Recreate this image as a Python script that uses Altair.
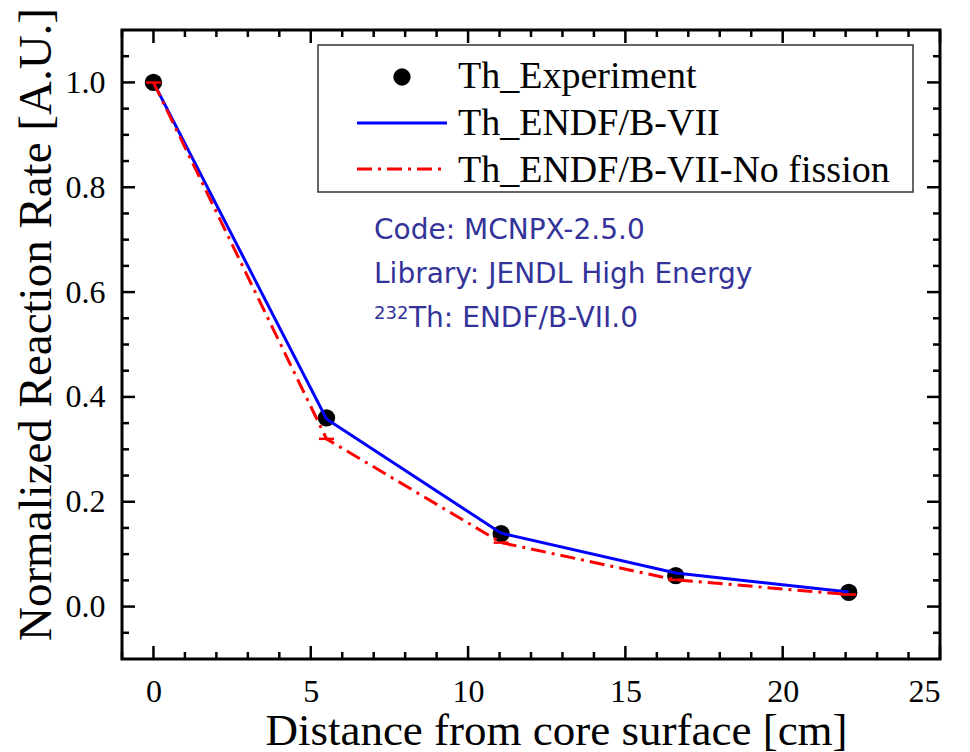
import altair as alt
import pandas as pd

# ---- data ----
distance_cm = [0.0, 5.5, 11.05, 16.6, 22.1]
th_experiment = [1.0, 0.36, 0.139, 0.059, 0.027]
th_endf_b7 = [1.0, 0.358, 0.14, 0.064, 0.028]
th_endf_b7_nofission = [1.0, 0.32, 0.122, 0.051, 0.023]

series_labels = ["Th_Experiment", "Th_ENDF/B-VII", "Th_ENDF/B-VII-No fission"]
note_lines = ["Code: MCNPX-2.5.0", "Library: JENDL High Energy", "Th: ENDF/B-VII.0"]
note_superscript = "232"

x_major_ticks = [0, 5, 10, 15, 20, 25]
x_minor_ticks = [-1, 1, 2, 3, 4, 6, 7, 8, 9, 11, 12, 13, 14, 16, 17, 18, 19, 21, 22, 23, 24]
y_major_ticks = [0.0, 0.2, 0.4, 0.6, 0.8, 1.0]
y_minor_ticks = [-0.05, 0.05, 0.1, 0.15, 0.25, 0.3, 0.35, 0.45, 0.5, 0.55,
                 0.65, 0.7, 0.75, 0.85, 0.9, 0.95, 1.05]

x_title = "Distance from core surface [cm]"
y_title = "Normalized Reaction Rate [A.U.]"

# ---- layout / style ----
W, H = 818, 629
SERIF = "Liberation Serif"
SANS = "DejaVu Sans"
NOTE_COLOR = "#333399"
MAJOR_LEN, MINOR_LEN = 13, 7

df = pd.DataFrame({"d": distance_cm, "exp": th_experiment,
                   "endf": th_endf_b7, "nofis": th_endf_b7_nofission})

xs = alt.Scale(domain=[-1, 25], nice=False, zero=False)
ys = alt.Scale(domain=[-0.1, 1.1], nice=False, zero=False)

x_axis = alt.Axis(values=x_major_ticks, title=x_title, labelBaseline="alphabetic",
                  labelPadding=42, labelFontSize=32, titleX=434, titleY=85,
                  titleAlign="center", titleBaseline="alphabetic", titleFontSize=45,
                  grid=False, domain=False, ticks=False, tickSize=0)
y_axis = alt.Axis(values=y_major_ticks, format=".1f", title=y_title, labelPadding=17,
                  labelFontSize=32, titleX=-72, titleY=294, titleAngle=270,
                  titleAlign="center", titleBaseline="alphabetic", titleFontSize=47,
                  grid=False, domain=False, ticks=False, tickSize=0)

layers = []

# inward ticks on all four sides
def tick_layer(vals, side, length):
    t = pd.DataFrame({"v": vals})
    base = alt.Chart(t).mark_rule(color="black", strokeWidth=2.5)
    if side == "bottom":
        return base.encode(x=alt.X("v:Q", scale=xs, axis=None),
                           y=alt.value(H), y2=alt.value(H - length))
    if side == "top":
        return base.encode(x=alt.X("v:Q", scale=xs, axis=None),
                           y=alt.value(0), y2=alt.value(length))
    if side == "left":
        return base.encode(y=alt.Y("v:Q", scale=ys, axis=None),
                           x=alt.value(0), x2=alt.value(length))
    return base.encode(y=alt.Y("v:Q", scale=ys, axis=None),
                       x=alt.value(W), x2=alt.value(W - length))

for side in ["bottom", "top"]:
    layers.append(tick_layer(x_major_ticks, side, MAJOR_LEN))
    layers.append(tick_layer(x_minor_ticks, side, MINOR_LEN))
for side in ["left", "right"]:
    layers.append(tick_layer(y_major_ticks, side, MAJOR_LEN))
    layers.append(tick_layer(y_minor_ticks, side, MINOR_LEN))

one = pd.DataFrame({"k": [0]})

# legend box
layers.append(alt.Chart(one).mark_rect(fill="white", stroke="#333333", strokeWidth=1.5).encode(
    x=alt.value(196), x2=alt.value(791), y=alt.value(15), y2=alt.value(162)))
layers.append(alt.Chart(one).mark_circle(size=300, color="black", opacity=1).encode(
    x=alt.value(280), y=alt.value(47)))
layers.append(alt.Chart(one).mark_rule(color="#0000ff", strokeWidth=3).encode(
    x=alt.value(235), x2=alt.value(325), y=alt.value(93)))
layers.append(alt.Chart(one).mark_rule(color="#ff0000", strokeWidth=3, strokeDash=[15, 6, 3, 6]).encode(
    x=alt.value(235), x2=alt.value(325), y=alt.value(139)))
for lab, yb in zip(series_labels, [58, 105, 152]):
    layers.append(alt.Chart(pd.DataFrame({"t": [lab]})).mark_text(
        font=SERIF, fontSize=38, align="left", baseline="alphabetic", color="black").encode(
        x=alt.value(336), y=alt.value(yb), text="t:N"))

# annotation text
for line, yb, xo in zip(note_lines, [209, 253, 297], [252, 252, 287]):
    layers.append(alt.Chart(pd.DataFrame({"t": [line]})).mark_text(
        font=SANS, fontSize=28, align="left", baseline="alphabetic", color=NOTE_COLOR).encode(
        x=alt.value(xo), y=alt.value(yb), text="t:N"))
layers.append(alt.Chart(pd.DataFrame({"t": [note_superscript]})).mark_text(
    font=SANS, fontSize=18, align="left", baseline="alphabetic", color=NOTE_COLOR).encode(
    x=alt.value(252), y=alt.value(289), text="t:N"))

# data
base = alt.Chart(df)
points = base.mark_circle(size=300, color="black", opacity=1).encode(
    x=alt.X("d:Q", scale=xs, axis=x_axis),
    y=alt.Y("exp:Q", scale=ys, axis=y_axis))
blue = base.mark_line(color="#0000ff", strokeWidth=3).encode(
    x=alt.X("d:Q", scale=xs, axis=None), y=alt.Y("endf:Q", scale=ys, axis=None))
red = base.mark_line(color="#ff0000", strokeWidth=3, strokeDash=[15, 6, 3, 6]).encode(
    x=alt.X("d:Q", scale=xs, axis=None), y=alt.Y("nofis:Q", scale=ys, axis=None))
caps = base.mark_tick(orient="horizontal", color="#ff0000", size=15, thickness=2.5, opacity=1).encode(
    x=alt.X("d:Q", scale=xs, axis=None), y=alt.Y("nofis:Q", scale=ys, axis=None))

layers = [points] + layers + [blue, red, caps]

chart = alt.layer(*layers).resolve_axis(
    x="independent", y="independent"
).properties(
    width=W, height=H,
    autosize=alt.AutoSizeParams(type="none"),
    padding={"left": 114, "top": 22, "right": 22, "bottom": 93},
    background="white",
).configure_view(
    stroke="black", strokeWidth=3
).configure_axis(
    labelFont=SERIF, titleFont=SERIF, labelColor="black", titleColor="black",
    titleFontWeight="normal",
)

chart.save("out.html", embed_options={"renderer": "svg", "actions": False})
